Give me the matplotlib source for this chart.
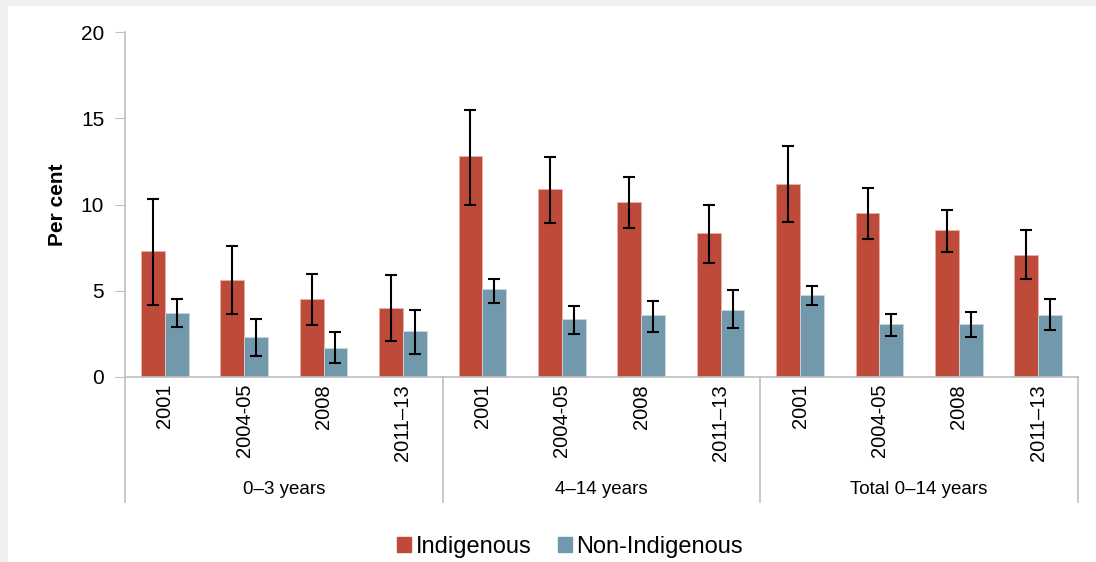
import matplotlib
matplotlib.use("Agg")
import matplotlib.pyplot as plt
from matplotlib.patches import Rectangle, Patch
import numpy as np

plt.rcParams['font.family'] = ['Liberation Sans', 'DejaVu Sans']

# categories
years = ['2001', '2004-05', '2008', '2011\u201313']
groups = ['0\u20133 years', '4\u201314 years', 'Total 0\u201314 years']

# Indigenous: value, lower CI, upper CI (per cent)
indig = [7.3, 5.6, 4.5, 4.0,
         12.8, 10.9, 10.15, 8.35,
         11.2, 9.5, 8.55, 7.05]
indig_lo = [4.2, 3.65, 3.0, 2.1,
            10.0, 8.9, 8.65, 6.6,
            9.0, 8.0, 7.25, 5.7]
indig_hi = [10.3, 7.6, 6.0, 5.9,
            15.5, 12.75, 11.6, 10.0,
            13.4, 10.95, 9.7, 8.5]

# Non-Indigenous
non_indig = [3.7, 2.3, 1.7, 2.65,
             5.1, 3.35, 3.6, 3.9,
             4.75, 3.05, 3.05, 3.6]
non_lo = [2.9, 1.2, 0.8, 1.35,
          4.3, 2.5, 2.6, 2.85,
          4.2, 2.4, 2.3, 2.7]
non_hi = [4.5, 3.35, 2.6, 3.9,
          5.7, 4.1, 4.4, 5.05,
          5.25, 3.65, 3.75, 4.5]

red = '#be4b3a'
blue = '#7299ab'
grey = '#bfbfbf'

fig = plt.figure(figsize=(10.96, 5.62), dpi=100, facecolor='#efefef')
# white panel behind the chart
fig.patches.append(Rectangle((8 / 1096, 0), 1, 1 - 6 / 562, transform=fig.transFigure,
                             facecolor='white', edgecolor='none', zorder=-5))
# title, cut off at the top of the picture
fig.text(0.5, 1 + 5.5 / 562, 'Figure 1: Prevalence of hearing conditions in children aged 0\u201314 years, '
         'Indigenous and non-Indigenous children, 2001 to 2011\u201313',
         ha='center', va='baseline', fontsize=17, fontweight='bold', zorder=1)

ax = fig.add_axes([125 / 1096, 1 - 377 / 562, 953 / 1096, 345 / 562])
ax.set_zorder(2)
ax.set_facecolor('none')

x = np.arange(len(indig))
w = 0.3
ind = np.array(indig)
non = np.array(non_indig)
ax.bar(x - w / 2, ind, w, color=red, edgecolor='#e8b0a8', linewidth=0.6, zorder=2)
ax.bar(x + w / 2, non, w, color=blue, edgecolor='#c8d8e0', linewidth=0.6, zorder=2)
ax.errorbar(x - w / 2, ind, yerr=[ind - np.array(indig_lo), np.array(indig_hi) - ind],
            fmt='none', ecolor='black', elinewidth=1.5, capsize=4, capthick=1.5, zorder=3)
ax.errorbar(x + w / 2, non, yerr=[non - np.array(non_lo), np.array(non_hi) - non],
            fmt='none', ecolor='black', elinewidth=1.5, capsize=4, capthick=1.5, zorder=3)

ax.set_xlim(-0.5, len(indig) - 0.5)
ax.set_ylim(0, 20)
ax.set_yticks([0, 5, 10, 15, 20])
ax.tick_params(axis='y', direction='out', length=7, color=grey, labelsize=15, pad=8)
ax.set_xticks(x)
ax.set_xticklabels(years * 3, rotation=90, fontsize=14.5)
ax.tick_params(axis='x', length=0, pad=5)
for s in ['top', 'right']:
    ax.spines[s].set_visible(False)
for s in ['left', 'bottom']:
    ax.spines[s].set_color(grey)
    ax.spines[s].set_linewidth(1.2)
ax.set_ylabel('Per cent', fontsize=15, fontweight='bold', labelpad=10)

# group separators and labels
trans = ax.get_xaxis_transform()
for b in [-0.5, 3.5, 7.5, 11.5]:
    ax.plot([b, b], [0, -0.362], transform=trans, color=grey, lw=1.2, clip_on=False)
for i, g in enumerate(groups):
    ax.text(4 * i + 1.5, -0.325, g, transform=trans, ha='center', va='center', fontsize=13.5)

handles = [Patch(color=red, label='Indigenous'), Patch(color=blue, label='Non-Indigenous')]
fig.legend(handles=handles, loc='center', bbox_to_anchor=(570 / 1096, 1 - 547 / 562), ncol=2,
           frameon=False, fontsize=17, handlelength=0.6, handleheight=0.6,
           handletextpad=0.2, columnspacing=1.1)

fig.savefig('out.png', dpi=100, facecolor=fig.get_facecolor())
